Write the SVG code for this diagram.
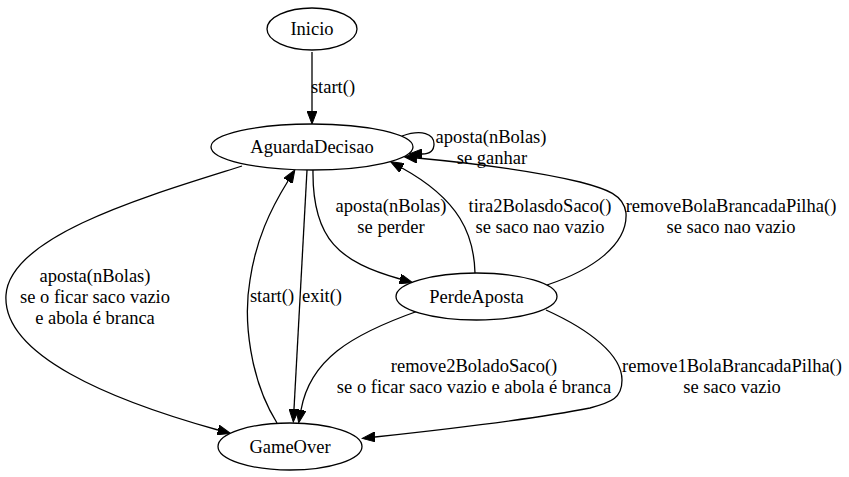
<svg xmlns="http://www.w3.org/2000/svg" width="849" height="477" viewBox="0 0 849 477">
<style>
  text { font-family: "Liberation Serif", "Tinos", "DejaVu Serif", "Noto Serif", "Times New Roman", Times, serif; font-size: 18.5px; fill: #000; text-anchor: middle; }
  .node ellipse { fill: #fff; stroke: #000; stroke-width: 1.3; }
  .edge path { fill: none; stroke: #000; stroke-width: 1.3; marker-end: url(#ah); }
</style>
<defs>
  <marker id="ah" markerUnits="userSpaceOnUse" markerWidth="14" markerHeight="10" viewBox="0 0 14 10" refX="0" refY="5" orient="auto">
    <path d="M0,0 L13,5 L0,10 Z" fill="#000" stroke="#000" stroke-width="1"/>
  </marker>
</defs>
<rect width="849" height="477" fill="#fff"/>
<g id="connectors" font-family="Liberation Serif, DejaVu Serif, serif">
  <g class="edge"><path d="M312,52 L312,111"/><text x="333" y="93">start()</text></g>
  <g class="edge"><path d="M402,136 C422,129 434,134 434,144 C434,151 429,154 422,154"/><text x="491" y="143">aposta(nBolas)</text><text x="492" y="164">se ganhar</text></g>
  <g class="edge"><path d="M313,170 C312,240 340,262 400,279"/><text x="391" y="212">aposta(nBolas)</text><text x="391" y="233">se perder</text></g>
  <g class="edge"><path d="M307,170 L294,409"/><text x="322" y="302">exit()</text></g>
  <g class="edge"><path d="M277,423 C250,380 243,320 250,280 C256,240 270,210 288,181"/><text x="272" y="302">start()</text></g>
  <g class="edge"><path d="M242,166 C150,195 10,235 6,295 C2,355 110,400 218,430"/><text x="95" y="282">aposta(nBolas)</text><text x="95" y="303">se o ficar saco vazio</text><text x="95" y="324">e abola é branca</text></g>
  <g class="edge"><path d="M475,273 C474,235 460,200 402,168"/><text x="540" y="212">tira2BolasdoSaco()</text><text x="540" y="233">se saco nao vazio</text></g>
  <g class="edge"><path d="M547,285 C592,270 628,245 626,213 C624,195 607,189 580,182 C530,170 460,162 417,158"/><text x="731" y="212">removeBolaBrancadaPilha()</text><text x="731" y="233">se saco nao vazio</text></g>
  <g class="edge"><path d="M418,311 C350,335 310,360 301,410"/><text x="474" y="372">remove2BoladoSaco()</text><text x="474" y="393">se o ficar saco vazio e abola é branca</text></g>
  <g class="edge"><path d="M546,310 C590,330 622,355 622,380 C622,398 612,402 590,408 C530,420 440,430 375,437"/><text x="732" y="372">remove1BolaBrancadaPilha()</text><text x="732" y="393">se saco vazio</text></g>
</g>
<g id="Inicio" class="node"><ellipse cx="312" cy="29" rx="45" ry="21"/><text x="312" y="35">Inicio</text></g>
<g id="AguardaDecisao" class="node"><ellipse cx="312" cy="147" rx="101" ry="23"/><text x="312" y="153">AguardaDecisao</text></g>
<g id="PerdeAposta" class="node"><ellipse cx="476.5" cy="296.5" rx="80.5" ry="23.5"/><text x="476.5" y="303">PerdeAposta</text></g>
<g id="GameOver" class="node"><ellipse cx="290" cy="446.5" rx="72" ry="23.5"/><text x="290" y="453">GameOver</text></g>
</svg>
